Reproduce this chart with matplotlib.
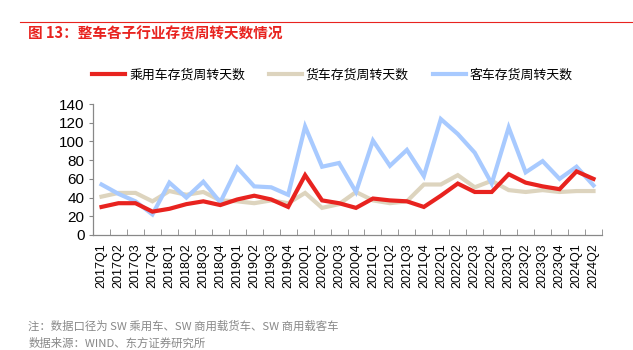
import matplotlib
matplotlib.use("Agg")
import matplotlib.pyplot as plt
from matplotlib.lines import Line2D

plt.rcParams['font.family'] = ['Liberation Sans', 'Noto Sans CJK SC', 'DejaVu Sans']

quarters = [f"{y}Q{q}" for y in range(2017, 2025) for q in range(1, 5)][:30]

passenger = [30, 34, 34, 25, 28, 33, 36, 32, 38, 42, 38, 30, 64, 37, 34, 29, 39, 37, 36, 30,
             42, 55, 46, 46, 65, 56, 52, 49, 68, 60]
truck = [41, 45, 45, 36, 47, 43, 46, 37, 36, 34, 37, 34, 45, 29, 33, 46, 37, 34, 36, 54,
         54, 64, 51, 58, 48, 46, 48, 46, 47, 47]
bus = [54, 44, 36, 22, 56, 40, 57, 35, 72, 52, 51, 43, 116, 73, 77, 46, 101, 74, 91, 63,
       124, 108, 88, 55, 115, 67, 79, 60, 73, 53]

series_names = ["乘用车存货周转天数", "货车存货周转天数", "客车存货周转天数"]
colors = ["#E8231F", "#DDD4BE", "#A8CAFF"]

fig = plt.figure(figsize=(6.33, 3.5), dpi=100)
ax = fig.add_axes([0.147, 0.3286, 0.804, 0.374])

x = list(range(len(quarters)))
for vals, c, z in zip([passenger, truck, bus], colors, [3, 1, 2]):
    ax.plot(x, vals, color=c, lw=3.0, solid_joinstyle='miter', zorder=z)

ax.set_xlim(-0.5, len(quarters) - 0.5)
ax.set_ylim(0, 140)
ax.set_yticks(range(0, 141, 20))
ax.set_xticks(x)
ax.set_xticklabels(quarters, rotation=90, fontsize=9)
ax.set_xticks([i - 0.5 for i in range(len(quarters) + 1)], minor=True)
ax.tick_params(axis='x', which='major', length=0, pad=6)
ax.tick_params(axis='x', which='minor', direction='in', length=4, color='#888888')
ax.tick_params(axis='y', direction='out', length=3, color='#888888', labelsize=11, pad=3)
for s in ['top', 'right']:
    ax.spines[s].set_visible(False)
for s in ['left', 'bottom']:
    ax.spines[s].set_color('#888888')
    ax.spines[s].set_linewidth(0.9)

# legend
handles = [Line2D([0], [0], color=c, lw=3) for c in colors]
fig.legend(handles, series_names, loc='center', bbox_to_anchor=(0.525, 0.786), ncol=3,
           frameon=False, handlelength=2.55, handletextpad=0.3, columnspacing=1.85,
           prop={'family': ['Noto Sans CJK SC'], 'size': 9.3})

# header
fig.add_artist(Line2D([0.032, 1.0], [0.937, 0.937], color='#E8231F', lw=0.8))
fig.text(0.045, 0.905, "图 13：整车各子行业存货周转天数情况", color='#E8231F', fontsize=10.5,
         fontweight='bold', va='center', ha='left', family=['Noto Sans CJK SC'])

fig.text(0.045, 0.068, "注：数据口径为 SW 乘用车、SW 商用载货车、SW 商用载客车", color='#888888',
         fontsize=8.2, va='center', ha='left', family=['Noto Sans CJK SC'])
fig.text(0.045, 0.02, "数据来源：WIND、东方证券研究所", color='#888888',
         fontsize=8.2, va='center', ha='left', family=['Noto Sans CJK SC'])

fig.savefig("out.png", dpi=100)
